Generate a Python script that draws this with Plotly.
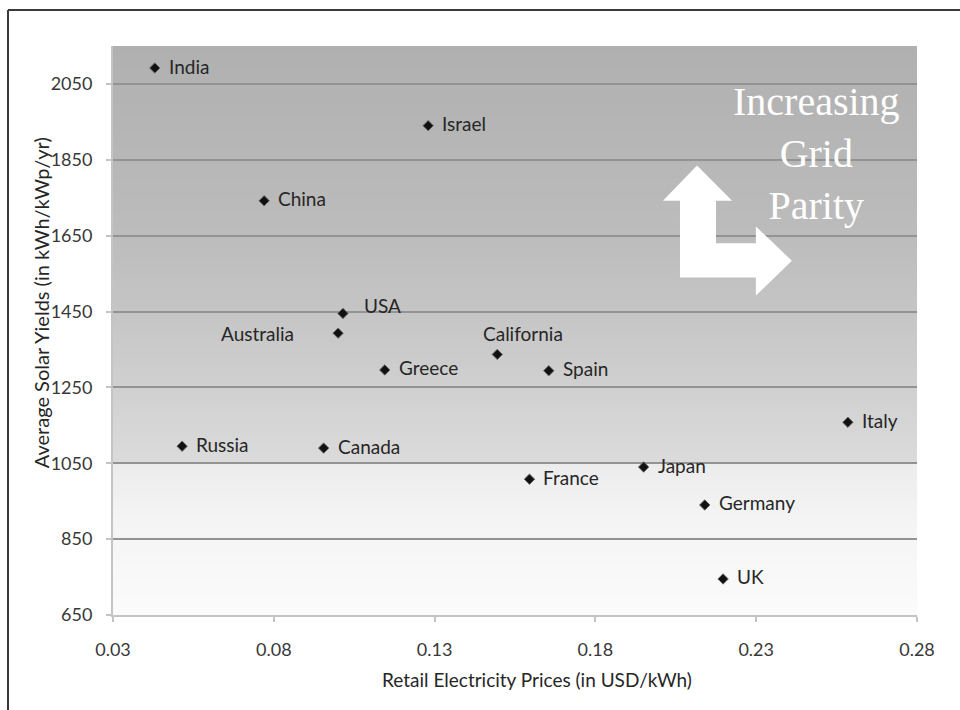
import plotly.graph_objects as go

# Retail electricity price vs. average solar yield by country/region
countries = ["India", "Israel", "China", "USA", "Australia", "Greece", "California",
             "Spain", "Russia", "Canada", "Italy", "Japan", "France", "Germany", "UK"]
prices = [0.043, 0.128, 0.077, 0.1015, 0.100, 0.1145, 0.1495,
          0.1655, 0.0515, 0.0955, 0.2585, 0.195, 0.1595, 0.214, 0.2197]
yields = [2092, 1940, 1742, 1445, 1393, 1296, 1337,
          1294, 1095, 1090, 1158, 1040, 1008, 940, 745]

# label placement per point: (xanchor, xshift, yshift)
label_place = {
    "USA": ("left", 19, 8),
    "Australia": ("right", -42, 0),
    "California": ("left", -16, 21),
}

x_ticks = [0.03, 0.08, 0.13, 0.18, 0.23, 0.28]
y_ticks = [650, 850, 1050, 1250, 1450, 1650, 1850, 2050]
y_min, y_max = 650, 2150

fig = go.Figure()

fig.add_trace(go.Scatter(
    x=prices, y=yields, mode="markers",
    marker=dict(symbol="diamond", size=8, color="#111111",
                line=dict(color="#6a6a6a", width=1)),
    hoverinfo="text", text=countries, showlegend=False,
))

sans = "Lato, Open Sans, sans-serif"
label_font = dict(family=sans, size=19, color="#262626")
annotations = []
for name, px, py in zip(countries, prices, yields):
    anchor, dx, dy = label_place.get(name, ("left", 12, 2))
    annotations.append(dict(
        x=px, y=py, xref="x", yref="y", text=name, showarrow=False,
        xanchor=anchor, yanchor="middle", xshift=dx, yshift=dy, font=label_font,
    ))

annotations.append(dict(
    x=0.2489, y=1866, xref="x", yref="y",
    text="Increasing<br>Grid<br>Parity", showarrow=False,
    font=dict(family="Liberation Serif, Times New Roman, serif", size=40, color="white"),
    align="center", xanchor="center", yanchor="middle",
))

# axis titles
annotations.append(dict(
    x=0.527, y=-0.114, xref="paper", yref="paper",
    text="Retail Electricity Prices (in USD/kWh)", showarrow=False,
    xanchor="center", yanchor="middle", font=dict(family=sans, size=19, color="#262626"),
))
annotations.append(dict(
    x=-0.0895, y=0.548, xref="paper", yref="paper",
    text="Average Solar Yields (in kWh/kWp/yr)", showarrow=False, textangle=-90,
    xanchor="center", yanchor="middle", font=dict(family=sans, size=20, color="#262626"),
))


def grey_at(v):
    # piecewise background shade, darker at high yields
    stops = [(650, 251), (900, 244), (1048, 236), (1052, 219),
             (1250, 208), (1450, 197), (1650, 188), (2150, 176)]
    for (v0, g0), (v1, g1) in zip(stops[:-1], stops[1:]):
        if v0 <= v <= v1:
            t = (v - v0) / (v1 - v0)
            return round(g0 + t * (g1 - g0))
    return stops[-1][1]


# background bands: each one reaches the top, later ones cover earlier ones
shapes = []
step = 10
v = y_min
while v < y_max:
    g = grey_at(v + step / 2)
    shapes.append(dict(
        type="rect", xref="x domain", yref="y", x0=0, x1=1, y0=v, y1=y_max,
        fillcolor=f"rgb({g},{g},{g})", line=dict(width=0), layer="below",
    ))
    v += step

# L-shaped double arrow pointing up and to the right
ax = dict(tip_up=0.2116, head_l=0.2010, head_r=0.2225, shaft_l=0.2063, shaft_r=0.2175,
          bar_r=0.2299, tip_r=0.2411)
ay = dict(tip_up=1835, head_b=1742, bottom=1540, bar_t=1630, rhead_t=1674, rhead_b=1492,
          tip_r=1584)
arrow_path = (
    f"M {ax['tip_up']},{ay['tip_up']} L {ax['head_r']},{ay['head_b']} "
    f"L {ax['shaft_r']},{ay['head_b']} L {ax['shaft_r']},{ay['bar_t']} "
    f"L {ax['bar_r']},{ay['bar_t']} L {ax['bar_r']},{ay['rhead_t']} "
    f"L {ax['tip_r']},{ay['tip_r']} L {ax['bar_r']},{ay['rhead_b']} "
    f"L {ax['bar_r']},{ay['bottom']} L {ax['shaft_l']},{ay['bottom']} "
    f"L {ax['shaft_l']},{ay['head_b']} L {ax['head_l']},{ay['head_b']} Z"
)
shapes.append(dict(type="path", xref="x", yref="y", path=arrow_path,
                   fillcolor="white", line=dict(width=0), layer="above"))

# outer frame (left and top edges)
shapes.append(dict(type="line", xref="paper", yref="paper", x0=-0.1306, x1=-0.1306,
                   y0=1.0633, y1=-0.2, line=dict(color="#3a3a3a", width=2)))
shapes.append(dict(type="line", xref="paper", yref="paper", x0=-0.1306, x1=1.1,
                   y0=1.0633, y1=1.0633, line=dict(color="#3a3a3a", width=2)))

tick_font = dict(family=sans, size=18, color="#383838")

fig.update_layout(
    width=960, height=710,
    margin=dict(l=113, r=43, t=46, b=95),
    paper_bgcolor="white", plot_bgcolor="white",
    shapes=shapes, annotations=annotations,
    xaxis=dict(
        range=[0.03, 0.28], tickvals=x_ticks, ticktext=[f"{t:.2f}" for t in x_ticks],
        showgrid=False, zeroline=False, showline=True, linecolor="#c4c4c4", linewidth=2,
        ticks="outside", ticklen=5, tickcolor="#c4c4c4", tickwidth=2,
        tickfont=tick_font, ticklabelstandoff=12,
    ),
    yaxis=dict(
        range=[y_min, y_max], tickvals=y_ticks, ticktext=[str(t) for t in y_ticks],
        showgrid=True, gridcolor="#939393", gridwidth=2, zeroline=False,
        showline=True, linecolor="#c4c4c4", linewidth=2,
        ticks="outside", ticklen=5, tickcolor="#c4c4c4", tickwidth=2,
        tickfont=tick_font, ticklabelstandoff=10,
    ),
)

fig.write_html("out.html")
